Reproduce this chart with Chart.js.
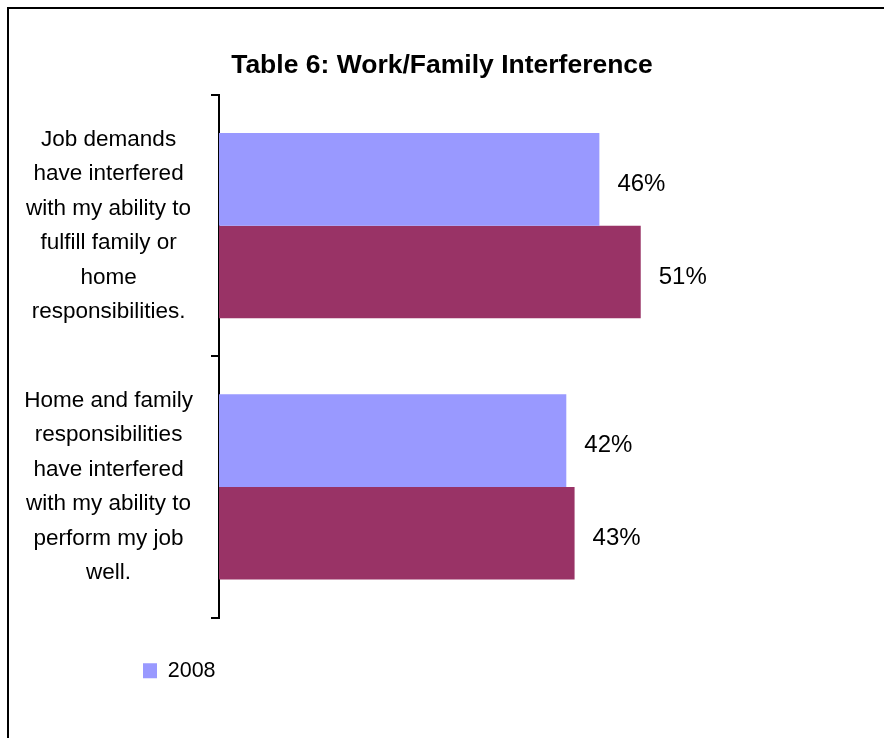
<!DOCTYPE html>
<html>
<head>
<meta charset="utf-8">
<script src="https://cdn.jsdelivr.net/npm/chart.js@4/dist/chart.umd.min.js"></script>
<style>
  body { margin: 0; overflow: hidden; background: #fff; }
  #marco { position: absolute; left: 7px; top: 7px; width: 1000px; height: 1000px;
           border-top: 2px solid #000; border-left: 2px solid #000; }
  #miGrafico { position: absolute; left: 0; top: 0; }
</style>
</head>
<body>
<div id="marco"></div>
<canvas id="miGrafico" width="884" height="738"></canvas>
<script>
// datos
var categorias = [
	['Job demands', 'have interfered', 'with my ability to', 'fulfill family or', 'home', 'responsibilities.'],
	['Home and family', 'responsibilities', 'have interfered', 'with my ability to', 'perform my job', 'well.']
];
var etiquetas = ['2008', 'Comparison'];
var valores2008 = [46, 42];
var valoresOtro = [51, 43];
var maximoX = 78;

var fuente = "'Liberation Sans', Arial, sans-serif";

// etiquetas de porcentaje a la derecha de cada barra
var porcentajes = {
	id: 'porcentajes',
	afterDatasetsDraw: function(chart) {
		var ctx = chart.ctx;
		ctx.save();
		ctx.font = '24px ' + fuente;
		ctx.fillStyle = '#000';
		ctx.textAlign = 'left';
		ctx.textBaseline = 'middle';
		chart.data.datasets.forEach(function(ds, i) {
			chart.getDatasetMeta(i).data.forEach(function(barra, j) {
				ctx.fillText(ds.data[j] + '%', barra.x + 18, barra.y + 5);
			});
		});
		ctx.restore();
	}
};

// la leyenda va debajo de las etiquetas, no pegada al borde
var moverLeyenda = {
	id: 'moverLeyenda',
	afterLayout: function(chart) {
		var l = chart.legend;
		var dx = 143 - l.options.labels.padding - l.left;
		l.left += dx;
		l.right += dx;
	}
};

var ctx = document.getElementById('miGrafico').getContext('2d');
var chart = new Chart(ctx, {
	type: 'bar',
	data: {
		labels: categorias,
		datasets: [{
			label: etiquetas[0],
			backgroundColor: '#9999FF',
			data: valores2008
		}, {
			label: etiquetas[1],
			backgroundColor: '#993366',
			data: valoresOtro
		}]
	},
	options: {
		indexAxis: 'y',
		responsive: false,
		animation: false,
		categoryPercentage: 0.71,
		barPercentage: 1.0,
		layout: { padding: { left: 20, right: 20, top: 0, bottom: 46.5 } },
		scales: {
			x: { display: false, min: 0, max: maximoX },
			y: {
				afterFit: function(eje) {
					eje.width = 199;
					eje.paddingTop = 0;
					eje.paddingBottom = 0;
				},
				border: { color: '#000', width: 2 },
				grid: { drawOnChartArea: false, color: '#000', lineWidth: 2, tickLength: 8 },
				ticks: {
					crossAlign: 'center',
					padding: 18,
					color: '#000',
					font: { family: fuente, size: 22.5, lineHeight: '34.5px' }
				}
			}
		},
		plugins: {
			title: {
				display: true,
				text: 'Table 6: Work/Family Interference',
				color: '#000',
				font: { family: fuente, size: 26.5, weight: 'bold' },
				padding: { top: 50, bottom: 13.2 }
			},
			legend: {
				position: 'bottom',
				align: 'start',
				labels: {
					boxWidth: 14,
					boxHeight: 15,
					padding: 42.5,
					color: '#000',
					font: { family: fuente, size: 21.5 },
					filter: function(item) { return item.datasetIndex === 0; }
				}
			},
			tooltip: { enabled: false }
		}
	},
	plugins: [porcentajes, moverLeyenda]
});
</script>
</body>
</html>
